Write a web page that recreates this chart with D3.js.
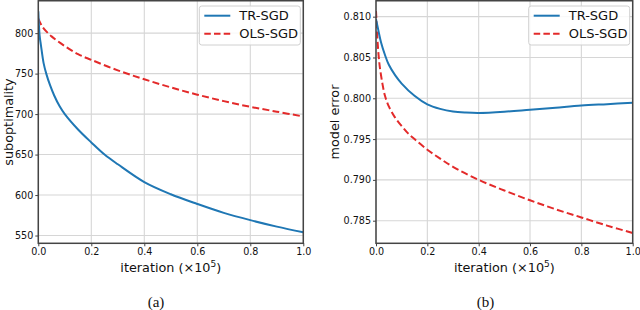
<!DOCTYPE html>
<html>
<head>
<meta charset="utf-8">
<script src="https://cdn.jsdelivr.net/npm/d3@7"></script>
<style>
  body { margin: 0; background: #fff; }
  svg text { font-family: "DejaVu Sans", sans-serif; fill: #111; }
</style>
</head>
<body>
<svg id="chart" width="640" height="310"></svg>
<script>
// iteration (x10^5)
const iterA = [0, 0.005, 0.01, 0.02, 0.03, 0.044, 0.06, 0.08, 0.1, 0.15, 0.2, 0.25, 0.3, 0.4, 0.5, 0.6, 0.7, 0.8, 0.9, 1.0];
const trSubopt = [827, 797, 785, 763, 750, 736, 723, 710, 700, 681, 665, 650, 638, 616, 601, 589, 578, 569, 561, 554];
const olsIterA = [0, 0.01, 0.02, 0.05, 0.1, 0.15, 0.2, 0.3, 0.4, 0.5, 0.6, 0.7, 0.8, 0.9, 1.0];
const olsSubopt = [818, 811, 806, 796, 784, 774, 767, 754, 743, 733, 724, 716, 709, 703, 697];

const iterB = [0, 0.01, 0.02, 0.035, 0.05, 0.075, 0.1, 0.15, 0.2, 0.25, 0.3, 0.35, 0.4, 0.5, 0.6, 0.7, 0.8, 0.9, 1.0];
const trErr = [0.8097, 0.8082, 0.8068, 0.8053, 0.8041, 0.8028, 0.8018, 0.8003, 0.79925, 0.7987, 0.79838, 0.79825, 0.7982, 0.79835, 0.7986, 0.79885, 0.7991, 0.79928, 0.79946];
const olsIterB = [0, 0.003, 0.006, 0.01, 0.015, 0.025, 0.035, 0.05, 0.075, 0.1, 0.125, 0.15, 0.2, 0.25, 0.3, 0.4, 0.5, 0.6, 0.7, 0.8, 0.9, 1.0];
const olsErr = [0.8107, 0.8088, 0.8070, 0.8053, 0.8038, 0.8018, 0.8003, 0.7990, 0.7976, 0.7966, 0.7957, 0.7950, 0.7937, 0.7926, 0.7916, 0.7900, 0.7887, 0.7875, 0.7864, 0.7854, 0.7844, 0.7835];

const xTicks = [0, 0.2, 0.4, 0.6, 0.8, 1.0];
const yTicksA = [550, 600, 650, 700, 750, 800];
const yTicksB = [0.785, 0.790, 0.795, 0.800, 0.805, 0.810];
const seriesNames = ["TR-SGD", "OLS-SGD"];

const blue = "#1f77b4", red = "#e32a2a";
const svg = d3.select("#chart");

function panel(opt) {
  const x = d3.scaleLinear().domain([0, 1]).range([opt.left, opt.right]);
  const y = d3.scaleLinear().domain(opt.ydom).range([opt.bottom, opt.top]);
  const g = svg.append("g");

  const clipId = "clip" + opt.id;
  g.append("clipPath").attr("id", clipId).append("rect")
    .attr("x", opt.left).attr("y", opt.top)
    .attr("width", opt.right - opt.left).attr("height", opt.bottom - opt.top);

  // grid
  g.append("g").selectAll("line").data(xTicks).join("line")
    .attr("x1", d => x(d)).attr("x2", d => x(d))
    .attr("y1", opt.top).attr("y2", opt.bottom)
    .attr("stroke", "#d6d6d6").attr("stroke-width", 1.1);
  g.append("g").selectAll("line").data(opt.yticks).join("line")
    .attr("x1", opt.left).attr("x2", opt.right)
    .attr("y1", d => y(d)).attr("y2", d => y(d))
    .attr("stroke", "#d6d6d6").attr("stroke-width", 1.1);

  // axes
  const xAxis = g.append("g").attr("transform", `translate(0,${opt.bottom})`)
    .call(d3.axisBottom(x).tickValues(xTicks).tickFormat(d3.format(".1f")).tickSize(3).tickPadding(2));
  const yAxis = g.append("g").attr("transform", `translate(${opt.left},0)`)
    .call(d3.axisLeft(y).tickValues(opt.yticks).tickFormat(opt.fmt).tickSize(3).tickPadding(2));
  [xAxis, yAxis].forEach(a => {
    a.select(".domain").remove();
    a.selectAll(".tick line").attr("stroke", "#444").attr("stroke-width", 1);
    a.selectAll(".tick text").style("font-size", "9.6px").attr("fill", "#111");
  });

  // lines
  const line = d3.line().x(d => x(d[0])).y(d => y(d[1])).curve(d3.curveCatmullRom.alpha(0.5));
  const lines = g.append("g").attr("clip-path", `url(#${clipId})`);
  lines.append("path").datum(d3.zip(opt.x2, opt.s2)).attr("d", line)
    .attr("fill", "none").attr("stroke", red).attr("stroke-width", 2)
    .attr("stroke-dasharray", "7,3.3");
  lines.append("path").datum(d3.zip(opt.x1, opt.s1)).attr("d", line)
    .attr("fill", "none").attr("stroke", blue).attr("stroke-width", 2);

  // frame
  g.append("rect").attr("x", opt.left).attr("y", opt.top)
    .attr("width", opt.right - opt.left).attr("height", opt.bottom - opt.top)
    .attr("fill", "none").attr("stroke", "#444").attr("stroke-width", 1.5);

  // legend
  const lx = opt.right - 104, ly = 6;
  const lg = g.append("g");
  lg.append("rect").attr("x", lx).attr("y", ly).attr("width", 101).attr("height", 39)
    .attr("rx", 2.5).attr("fill", "#fff").attr("fill-opacity", 0.85)
    .attr("stroke", "#d0d0d0").attr("stroke-width", 1);
  seriesNames.forEach((name, i) => {
    const yy = ly + 9.7 + i * 18;
    lg.append("line").attr("x1", lx + 5).attr("x2", lx + 31).attr("y1", yy).attr("y2", yy)
      .attr("stroke", i ? red : blue).attr("stroke-width", 2)
      .attr("stroke-dasharray", i ? "6.5,3.2" : null);
    lg.append("text").attr("x", lx + 40).attr("y", yy + 4.6)
      .style("font-size", "13px").text(name);
  });

  // labels
  const xl = g.append("text").attr("x", (opt.left + opt.right) / 2).attr("y", 271.5)
    .attr("text-anchor", "middle").style("font-size", "12.8px");
  xl.append("tspan").text("iteration (\u00d710");
  xl.append("tspan").attr("dy", -5).style("font-size", "9px").text("5");
  xl.append("tspan").attr("dy", 5).text(")");

  g.append("text").attr("transform", `translate(${opt.ylabX},${(opt.top + opt.bottom) / 2}) rotate(-90)`)
    .attr("text-anchor", "middle").attr("dy", "0.35em").style("font-size", "12.8px").text(opt.ylabel);

  g.append("text").attr("x", opt.capX).attr("y", 307).attr("text-anchor", "middle")
    .style("font-family", "'Liberation Serif', 'Times New Roman', serif").style("font-size", "15px")
    .text(opt.caption);
}

panel({
  id: "a", left: 38.3, right: 303.3, top: 0.75, bottom: 243.3,
  ydom: [540.4, 840], yticks: yTicksA, fmt: d3.format("d"),
  x1: iterA, s1: trSubopt, x2: olsIterA, s2: olsSubopt,
  ylabel: "suboptimality", ylabX: 8.5, capX: 156, caption: "(a)"
});
panel({
  id: "b", left: 376, right: 632.7, top: 0.75, bottom: 243.3,
  ydom: [0.78223, 0.81195], yticks: yTicksB, fmt: d3.format(".3f"),
  x1: iterB, s1: trErr, x2: olsIterB, s2: olsErr,
  ylabel: "model error", ylabX: 335, capX: 485.5, caption: "(b)"
});
</script>
</body>
</html>
